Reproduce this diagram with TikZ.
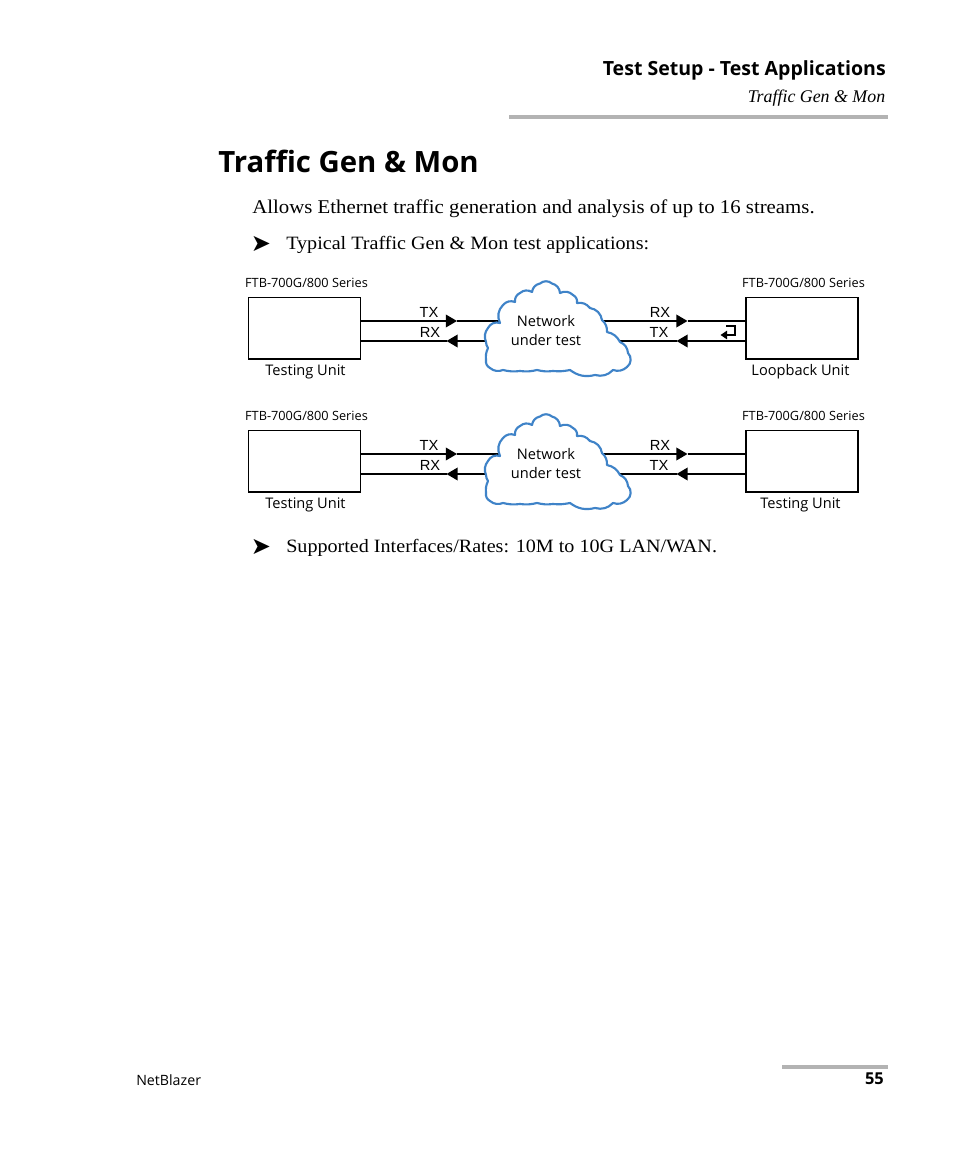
\documentclass[tikz,border=0pt]{standalone}
\usepackage{fontspec}
\setmainfont{Liberation Serif}
\newfontfamily\sans{Open Sans}
\newfontfamily\arial{Liberation Sans}
\newfontfamily\dejavu{DejaVu Sans}
\newfontfamily\bodyf[FakeStretch=1.07]{Liberation Serif}
\usetikzlibrary{arrows.meta}
\tikzset{
  x=0.75pt,y=-0.75pt,
  unitbox/.style={draw=black,line width=1.2pt,fill=white,minimum width=84pt,minimum height=46pt,inner sep=0pt,anchor=north west},
  wire/.style={draw=black,line width=1.2pt},
  wirearrow/.style={wire,-{Triangle[length=8.4pt,width=9.5pt]}},
  cloudline/.style={draw=cloudblue,line width=1.6pt,fill=white,line join=round},
  small/.style={font=\sans\fontsize{9.55}{11}\selectfont,inner sep=0pt,anchor=base},
  mid/.style={font=\sans\fontsize{10.95}{13}\selectfont,inner sep=0pt,anchor=base},
  sig/.style={font=\arial\fontsize{11}{13}\selectfont,inner sep=0pt,anchor=base},
  body/.style={font=\bodyf\fontsize{14.1}{17}\selectfont,inner sep=0pt,anchor=base west},
  bullet/.style={font=\dejavu\fontsize{18}{20}\selectfont,inner sep=0pt,anchor=center},
  rulebar/.style={draw=rulegray,line width=3pt},
}
\definecolor{cloudblue}{HTML}{3F83C8}
\definecolor{rulegray}{HTML}{B3B3B3}
\newcommand{\cloudat}[2]{%
  \begin{scope}[shift={(#1,#2)}]
  \draw[cloudline] (486,342) to[bend left=30] (488,328) to[bend left=40] (500,323)
   to[bend left=35] (503,305) to[bend left=35] (515,302) to[bend left=35] (520,293)
   to[bend left=35] (532,292) to[bend left=35] (540,283.5) to[bend left=40] (552,283.5)
   to[bend left=35] (560,293) to[bend left=35] (573,295) to[bend left=35] (577,303)
   to[bend left=30] (590,308) to[bend left=35] (602,320) to[bend left=25] (607,332)
   to[bend left=25] (620,342) to[bend left=30] (628,353) to[bend left=50] (627,367)
   to[bend left=30] (613,370) to[bend left=30] (595,375) to[bend left=25] (570,370)
   to[bend left=8] (553,371) to[bend left=10] (537,370) to[bend left=10] (520,371)
   to[bend left=10] (503,370) to[bend left=30] (490,368) to[bend left=35] (486,360)
   to[bend left=15] (488,348) to[bend left=15] cycle;
  \end{scope}}
\begin{document}
\begin{tikzpicture}
\useasboundingbox[fill=white] (0,0) rectangle (954,1159);
% page furniture
\node[anchor=base east,inner sep=0pt,font=\sans\bfseries\fontsize{14.65}{17}\selectfont] (hd) at (886,75.5) {Test Setup - Test Applications};
\node[anchor=base east,inner sep=0pt,font=\itshape\fontsize{13.4}{16}\selectfont] (sub) at (885.5,102.5) {Traffic Gen \& Mon};
\coordinate (r1a) at (509,117.5); \coordinate (r1b) at (888,117.5);
\draw[rulebar] (r1a) -- (r1b);
\node[anchor=base west,inner sep=0pt,font=\sans\bfseries\fontsize{22}{27}\selectfont] (title) at (218,172.5) {Traffic Gen \& Mon};
\node[body,font=\bodyf\fontsize{14.6}{17}\selectfont] (intro) at (252,213) {Allows Ethernet traffic generation and analysis of up to 16 streams.};
\node[bullet] (b1) at (261,244) {➤};
\node[body] (t1) at (286,249) {Typical Traffic Gen \& Mon test applications:};
\node[bullet] (b2) at (261,547) {➤};
\node[body] (t2) at (286,552) {Supported Interfaces/Rates: 10M to 10G LAN/WAN.};
\coordinate (r2a) at (782,1067); \coordinate (r2b) at (888,1067);
\draw[rulebar] (r2a) -- (r2b);
\node[anchor=base west,inner sep=0pt,font=\sans\fontsize{10.65}{12}\selectfont] (ft) at (136,1085) {NetBlazer};
\node[anchor=base east,inner sep=0pt,font=\sans\bfseries\fontsize{12.3}{14}\selectfont] (pg) at (884,1084.5) {55};
% rows
\foreach \n/\dy in {a/0,b/133}{
  \node[unitbox] (L\n) at (247.7,296.8+\dy) {};
  \node[unitbox] (R\n) at (745,296.8+\dy) {};
  \coordinate (LTX\n) at (361,321+\dy);
  \coordinate (LRX\n) at (361,341+\dy);
  \coordinate (TIPa\n) at (457,321+\dy);
  \coordinate (TIPb\n) at (446.5,341+\dy);
  \coordinate (CLa\n) at (505,321+\dy);
  \coordinate (CLb\n) at (490,341+\dy);
  \coordinate (CRa\n) at (600,321+\dy);
  \coordinate (CRb\n) at (615,341+\dy);
  \coordinate (TIPc\n) at (687.5,321+\dy);
  \coordinate (TIPd\n) at (676.5,341+\dy);
  \coordinate (RTX\n) at (745,321+\dy);
  \coordinate (RRX\n) at (745,341+\dy);
  \draw[wirearrow] (LTX\n) -- (TIPa\n);
  \draw[wire] (TIPa\n) -- (CLa\n);
  \draw[wirearrow] (CLb\n) -- (TIPb\n);
  \draw[wire] (TIPb\n) -- (LRX\n);
  \draw[wirearrow] (CRa\n) -- (TIPc\n);
  \draw[wire] (TIPc\n) -- (RTX\n);
  \draw[wirearrow] (RRX\n) -- (TIPd\n);
  \draw[wire] (TIPd\n) -- (CRb\n);
  \cloudat{0}{\dy}
  \node[mid] (net\n) at (546,326+\dy) {Network};
  \node[mid] (ut\n) at (546,345+\dy) {under test};
  \node[small] (ftl\n) at (306.5,287+\dy) {FTB-700G/800 Series};
  \node[small] (ftr\n) at (803.5,287+\dy) {FTB-700G/800 Series};
  \node[sig] (tx\n) at (429,317+\dy) {TX};
  \node[sig] (rx\n) at (430,337+\dy) {RX};
  \node[sig] (rxr\n) at (660,317+\dy) {RX};
  \node[sig] (txr\n) at (659,337+\dy) {TX};
  \node[mid] (lu\n) at (305.5,375+\dy) {Testing Unit};
}
\node[mid] (ru) at (800.5,375) {Loopback Unit};
\node[mid] (ru2) at (800.5,508) {Testing Unit};
% loopback symbol
\coordinate (lpa) at (726,326); \coordinate (lpb) at (735,326);
\coordinate (lpc) at (735,335); \coordinate (lpd) at (720.5,335);
\draw[draw=black,line width=0.8pt,-{Triangle[length=5pt,width=6.5pt]}] (lpa) -- (lpb) -- (lpc) -- (lpd);
\end{tikzpicture}
\end{document}
